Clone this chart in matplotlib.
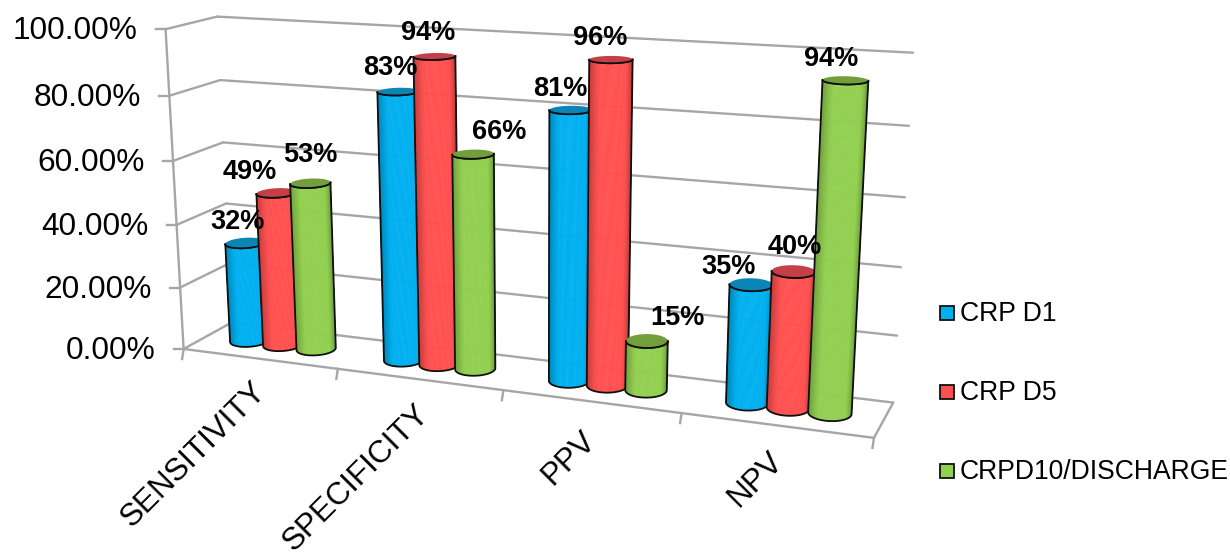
import numpy as np
import matplotlib
matplotlib.use("Agg")
import matplotlib.pyplot as plt
from matplotlib.collections import PolyCollection
from matplotlib.patches import Polygon, Rectangle
from matplotlib.colors import to_rgb

plt.rcParams["font.family"] = ["Liberation Sans", "DejaVu Sans"]

categories = ["SENSITIVITY", "SPECIFICITY", "PPV", "NPV"]
series_names = ["CRP D1", "CRP D5", "CRPD10/DISCHARGE"]
crp_d1 = [32, 83, 81, 35]
crp_d5 = [49, 94, 96, 40]
crp_d10 = [53, 66, 15, 94]
y_ticks = [0, 20, 40, 60, 80, 100]
series_values = [crp_d1, crp_d5, crp_d10]

body_colors = ["#00B0F0", "#FF5050", "#92D050"]
cap_colors = ["#0B84B6", "#C63F47", "#729F3C"]
GRID = "#A6A6A6"

# Camera calibration: world (category, depth, value fraction) -> canvas pixel
calib = [
    ((0, 0, 0), (184, 349)), ((1, 0, 0), (337, 369)), ((2, 0, 0), (503, 391)),
    ((3, 0, 0), (681, 413)), ((4, 0, 0), (875, 437)), ((4, 1, 0), (893, 402)),
    ((0, 1, 0), (232, 323)), ((0, 0, 1), (165, 30)), ((0, 1, 1), (217, 16)),
    ((4, 1, 1), (913, 53)), ((0, 0, 0.6), (174, 160)), ((4, 1, 0.6), (905, 198)),
    ((0, 1, 0.6), (223, 142)),
]


def fit_camera(pairs):
    rows, rhs = [], []
    for (x, y, z), (u, v) in pairs:
        rows.append([x, y, z, 1, 0, 0, 0, 0, -u * x, -u * y, -u * z])
        rhs.append(u)
        rows.append([0, 0, 0, 0, x, y, z, 1, -v * x, -v * y, -v * z])
        rhs.append(v)
    sol = np.linalg.lstsq(np.array(rows, float), np.array(rhs, float), rcond=None)[0]
    return np.append(sol, 1.0).reshape(3, 4)


CAM = fit_camera(calib)


def project(x, y, z):
    x, y, z = np.broadcast_arrays(x, y, z)
    world = np.stack([x, y, z, np.ones_like(x, dtype=float)], axis=-1)
    h = world @ CAM.T
    return h[..., :2] / h[..., 2:]


fig = plt.figure(figsize=(12.3, 5.52), dpi=100)
ax = fig.add_axes([0, 0, 1, 1])
ax.set_xlim(0, 1230)
ax.set_ylim(552, 0)
ax.axis("off")


def seg(a, b):
    pa, pb = project(*a), project(*b)
    ax.plot([pa[0], pb[0]], [pa[1], pb[1]], color=GRID, lw=1.7,
            solid_capstyle="round", zorder=1)


# Walls, floor edges and gridlines
n_cat = len(categories)
for t in y_ticks:
    z = t / 100
    seg((0, 0, z), (0, 1, z))
    seg((0, 1, z), (n_cat, 1, z))
    p = project(0, 0, z)
    ax.plot([p[0] - 10, p[0]], [p[1], p[1]], color=GRID, lw=1.7, zorder=1)
    ax.text(p[0] - 28, p[1] + 2, f"{t:.2f}%", ha="right",
            va="center", fontsize=22.8, color="black")
seg((0, 0, 0), (0, 0, 1))
seg((0, 0, 0), (n_cat, 0, 0))
seg((n_cat, 0, 0), (n_cat, 1, 0))
for i in range(n_cat + 1):
    p = project(i, 0, 0)
    ax.plot([p[0], p[0] - 1.5], [p[1], p[1] + 10], color=GRID, lw=1.7, zorder=1)

# Category labels, rotated along the front axis
label_shift = [(-9, 18), (-5, 20), (-10, 24), (-8, 21)]
for i, name in enumerate(categories):
    p = project(i + 0.5, 0, 0)
    ax.text(p[0] + label_shift[i][0], p[1] + label_shift[i][1], name, rotation=45,
            rotation_mode="anchor", ha="right", va="top", fontsize=22.6, color="black",
            clip_on=False)

SERIES_OFFSET = [0.28, 0.5, 0.72]
RX, RY, CY = 0.111, 0.22, 0.5
THETA = np.linspace(-1.3 * np.pi, 0.3 * np.pi, 241)


def arc(cx, z):
    """Front-facing arc of a cylinder ring, left silhouette to right silhouette."""
    pts = project(cx + RX * np.cos(THETA), CY + RY * np.sin(THETA), z)
    i0, i1 = np.argmin(pts[:, 0]), np.argmax(pts[:, 0])
    s = np.linspace(0, 1, 73)
    idx = i0 + (i1 - i0) * s
    return np.column_stack([np.interp(idx, np.arange(len(pts)), pts[:, k]) for k in (0, 1)]), s


def shade(color, s):
    """Horizontal lighting across the cylinder face."""
    across = (1 - np.cos(np.pi * s)) / 2
    level = 0.72 + 0.28 * np.clip(np.minimum(across / 0.25, (1 - across) / 0.14), 0, 1) ** 0.7
    return np.outer(level, np.array(to_rgb(color)))


z_order = 3
for c in range(n_cat):
    for k, values in enumerate(series_values):
        cx = c + SERIES_OFFSET[k]
        z = values[c] / 100
        bottom, s = arc(cx, 0.0)
        top, _ = arc(cx, z)
        quads = [np.array([bottom[j], bottom[j + 1], top[j + 1], top[j]]) for j in range(len(s) - 1)]
        colors = shade(body_colors[k], 0.5 * (s[:-1] + s[1:]))
        ax.add_collection(PolyCollection(quads, facecolors=colors, edgecolors=colors,
                                         linewidths=0.4, zorder=z_order))
        outline = np.vstack([bottom, top[::-1]])
        ax.add_patch(Polygon(outline, closed=True, fill=False, ec="#101010", lw=1.3,
                             joinstyle="round", zorder=z_order + 0.2))
        ring_t = np.linspace(0, 2 * np.pi, 121)
        ring = project(cx + RX * np.cos(ring_t), CY + RY * np.sin(ring_t), z)
        ax.add_patch(Polygon(ring, closed=True, fc=cap_colors[k], ec="none", zorder=z_order + 0.3))
        ax.plot(top[:, 0], top[:, 1], color="#101010", lw=1.3, zorder=z_order + 0.4)
        z_order += 1

# Value labels, placed relative to each cylinder top
label_offsets = [
    [(-8, -21), (-27, -21), (0, -28)],
    [(-8, -24), (-6, -23), (26, -22)],
    [(-10, -21), (-11, -22), (31, -23)],
    [(-23, -18), (1, -24), (-14, -21)],
]
for c in range(n_cat):
    for k, values in enumerate(series_values):
        p = project(c + SERIES_OFFSET[k], CY, values[c] / 100)
        dx, dy = label_offsets[c][k]
        ax.text(p[0] + dx, p[1] + dy, f"{values[c]}%", ha="center", va="center",
                fontsize=19.5, fontweight="bold", color="black", zorder=50)

# Legend
legend_y = [314, 393, 472]
for name, col, y in zip(series_names, body_colors, legend_y):
    ax.add_patch(Rectangle((940, y - 8), 14, 14, fc=col, ec="#101010", lw=1.3, zorder=60))
    ax.text(960, y, name, ha="left", va="center", fontsize=19.1, color="black", zorder=60)

fig.savefig("out.png", dpi=100)
